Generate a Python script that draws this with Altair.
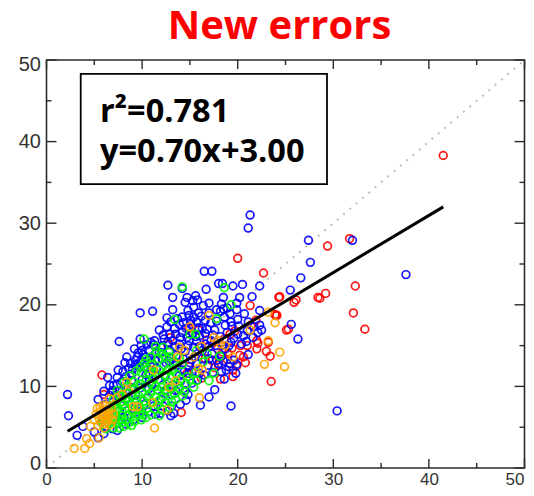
import altair as alt
import pandas as pd

blue = [(21.3,31.0),(21.1,29.4),(16.5,24.1),(17.3,24.1),(12.7,22.4),(13.2,20.9),(14.2,22.0),(9.8,19.0),(11.1,19.2),
(7.6,15.5),(9.8,15.8),(8.4,13.6),(7.5,12.0),(2.2,9.0),(2.3,6.4),(3.2,4.0),(3.8,5.1),(5.4,8.4),(6.4,11.1),(6.6,10.1),
(7.0,10.1),(14.6,8.3),(16.1,7.7),(17.0,8.7),(17.6,9.6),(19.3,7.6),(18.6,10.9),(18.0,22.6),(18.4,22.6),(19.5,22.3),
(20.5,22.5),(22.3,22.3),(16.7,21.9),(18.5,20.9),(20.2,20.9),(21.5,21.0),(15.6,21.1),(14.7,20.9),(14.5,20.3),(15.3,20.5),
(15.8,20.6),(15.4,19.7),(16.4,19.9),(17.0,20.2),(18.3,20.1),(18.5,19.5),(19.2,18.9),(20.7,18.9),(22.3,19.3),(21.1,17.9),
(22.3,17.5),(22.5,16.9),(12.6,18.4),(13.7,18.3),(14.2,18.5),(14.9,18.7),(15.4,18.5),(13.9,17.6),(12.6,17.3),(11.8,16.9),
(12.9,16.4),(13.5,16.4),(14.2,16.6),(16.6,18.1),(16.3,17.1),(17.6,16.9),(18.7,17.5),(20.0,16.4),(20.4,15.2),(21.1,13.9),
(19.2,12.8),(18.0,12.8),(18.7,14.6),(16.6,15.2),(16.3,14.4),(14.9,15.6),(13.9,15.2),(13.2,15.6),(12.3,15.8),(10.9,15.4),
(10.0,14.4),(9.5,13.6),(10.4,13.6),(10.7,14.4),(9.7,12.4),(8.6,12.2),(8.0,11.8),(9.0,12.1),(10.2,12.4),(11.0,12.9),
(13.3,6.7),(12.7,7.0),(11.4,6.6),(10.0,6.2),(8.3,5.4),(6.9,4.8),(6.0,4.2),(5.4,3.7),(5.0,4.4),(14.5,9.5),(14.2,12.0),
(15.2,13.3),(14.9,11.6),(32.0,27.9),(27.4,27.9),(27.6,25.2),(26.6,23.3),(25.5,21.8),(25.6,17.6),(26.3,15.8),(30.4,7.0),
(37.6,23.7),(17.8,18.0),(19.4,17.4),(15.1,17.6),(16.0,16.2),(17.2,15.6),(19.3,15.4),(21.6,16.0),(22.1,16.6),(18.2,19.2),
(13.2,19.4),(14.8,19.3),(15.9,19.0),(12.0,14.8),(11.4,14.0),(12.9,14.4),(14.5,14.3),(15.5,13.6),(17.3,14.0),(18.3,13.7),
(19.6,13.2),(19.8,11.6),(18.8,12.0),(16.9,12.6),(16.0,11.6),(15.2,10.4),(14.0,10.6),(13.1,9.0),(12.0,8.4),(10.6,8.6),
(9.3,9.0),(8.4,9.6),(7.2,8.9),(6.2,7.8),(7.6,7.0),(9.2,7.2),(11.0,10.2),(12.4,11.2),(13.6,12.6),(10.0,10.8),(8.9,10.7),
(9.8,13.0),(11.5,12.2),(12.5,12.9),(13.0,13.4),(8.2,12.9),(9.2,14.6),(9.9,15.0),(11.2,15.1),(20.1,17.4),(21.0,16.8),
(19.9,19.4),(17.2,17.8),(15.7,15.5),(14.6,17.1),(13.0,17.9),(12.1,15.0),(10.8,11.5),(6.0,9.4),(5.9,5.9),(7.4,11.1),
(15.1,18.1),(15.7,17.9),(16.2,18.6),(17.0,19.0),(17.8,19.4),(18.6,18.5),(19.3,17.9),(20.0,18.2),(13.4,17.1),(14.0,16.0),
(14.7,16.0),(15.3,16.5),(15.9,17.2),(16.6,16.5),(17.4,16.3),(18.2,16.1),(18.9,16.6),(19.6,15.9),(20.9,15.5),(12.2,16.3),
(12.7,15.4),(13.4,14.9),(14.1,14.6),(14.8,15.0),(15.4,14.8),(16.0,14.9),(17.0,14.9),(17.7,15.0),(18.4,15.0),(19.1,15.0),
(11.3,15.6),(10.5,15.1),(11.8,14.2),(10.1,13.9),(9.6,14.1),(9.3,13.2),(10.7,13.2),(11.4,13.2),(12.1,13.4),(12.8,13.1),
(13.6,13.8),(14.3,13.4),(15.0,12.9),(15.7,12.8),(16.3,13.4),(17.0,13.4),(17.8,13.2),(18.5,13.1),(19.1,12.4),(19.9,12.7),
(8.8,12.8),(9.3,12.6),(8.3,11.2),(8.9,11.5),(7.9,10.6),(7.4,10.3),(10.4,11.4),(11.4,11.3),(12.2,10.2),(13.2,10.2),(13.9,11.3),
(14.4,11.8),(15.2,11.8),(15.8,10.8),(16.5,11.4),(17.4,11.7),(18.3,11.8),(6.9,9.5),(7.9,9.4),(8.9,9.8),(9.8,9.8),(10.7,9.7),
(11.6,9.6),(12.5,9.6),(13.5,9.5),(14.8,9.0),(6.6,8.9),(7.5,8.4),(8.3,8.4),(9.3,8.0),(10.2,7.8),(11.2,7.6),(12.2,7.6),(13.1,7.6),
(14.0,7.8),(6.6,7.0),(8.4,7.0),(9.6,6.9),(10.7,6.9),(11.9,6.7),(13.0,6.4),(7.0,5.9),(8.1,6.2),(9.1,5.9),(6.3,5.1),(7.4,4.6),
(18.9,19.6),(19.9,20.2),(16.8,17.0),(15.6,16.1),(14.3,17.8),(21.7,17.3),(20.6,16.2)]

green = [(14.2,22.2),(18.6,22.1),(19.3,20.0),(17.8,18.3),(13.4,18.2),(10.2,15.8),(15.0,16.4),(15.6,16.4),(12.2,14.8),
(18.1,13.7),(17.5,11.6),(17.0,10.7),(15.7,10.7),(15.4,9.9),(14.4,9.3),(13.1,8.1),(11.8,6.4),(8.1,5.1),(15.7,14.4),(16.4,13.0),
(11.5,14.3),(12.8,14.2),(10.9,13.6),(11.7,13.4),(12.4,13.7),(13.3,13.1),(14.2,12.7),(10.2,12.8),(11.0,12.6),(9.4,11.9),
(8.7,11.3),(9.9,11.7),(10.8,11.7),(11.8,12.0),(12.7,12.0),(13.6,11.5),(14.7,11.2),(8.1,10.5),(9.1,10.6),(9.9,10.3),(10.9,10.4),
(11.9,10.8),(12.8,10.5),(13.7,10.2),(14.6,10.3),(7.4,9.5),(8.4,9.2),(9.2,9.6),(10.0,9.3),(10.9,9.2),(11.7,9.5),(12.6,9.2),
(13.4,9.1),(14.2,8.8),(7.0,8.4),(7.8,8.1),(8.6,8.2),(9.4,8.4),(10.2,8.2),(11.0,8.1),(11.8,8.3),(12.5,8.0),(6.7,7.3),
(7.4,7.3),(8.2,7.3),(9.0,7.1),(9.8,7.2),(10.5,7.3),(11.3,7.2),(12.1,7.1),(6.5,6.5),(7.2,6.2),(7.9,6.4),(8.6,6.4),(9.3,6.3),
(10.1,6.6),(10.9,6.5),(5.9,5.4),(6.6,5.5),(7.3,5.5),(7.9,5.6),(8.6,5.5),(9.2,5.7),(9.9,5.9),(6.2,4.8),(7.0,4.9),(7.6,4.9),
(12.3,12.6),(11.2,11.0),(13.0,11.0),(10.5,9.8),(9.0,8.8),(12.0,9.9),(13.0,9.7),(8.0,8.8),(6.9,6.9),(14.0,10.9),(15.0,10.8),
(11.4,14.9),(12.0,14.0),(12.9,13.6),(10.4,13.3),(9.8,12.3),(10.6,12.2),(11.5,11.6),(12.3,11.4),(13.2,12.0),(8.4,10.0),(9.5,10.1),
(10.4,10.7),(11.4,10.0),(12.4,9.5),(13.9,9.7),(7.6,8.9),(8.3,8.6),(9.6,8.9),(10.6,8.8),(11.4,8.7),(12.2,8.7),(13.5,8.4),(7.3,7.8),
(8.0,7.7),(8.9,7.7),(9.6,7.7),(10.4,7.8),(11.6,7.7),(12.9,7.4),(6.9,6.0),(7.6,5.9),(8.3,5.9),(9.0,6.8),(9.7,6.5),(10.4,6.2),(8.9,5.2),
(6.5,5.9),(7.9,6.9),(15.6,11.7),(16.8,14.0),(13.9,13.5),(7.0,7.6)]

orange = [(2.9,2.4),(4.0,2.4),(4.5,3.0),(4.2,3.6),(5.5,3.7),(11.3,4.9),(12.6,7.1),(11.1,8.0),(9.5,7.5),(9.1,7.5),(6.6,8.5),
(8.4,10.5),(11.2,12.0),(13.5,10.7),(12.8,9.9),(13.7,13.6),(13.9,14.8),(15.0,17.3),(17.0,18.7),(15.9,12.2),(16.3,12.0),(16.0,8.6),
(17.5,16.0),(18.2,15.2),(18.7,15.0),(19.5,13.6),(21.3,16.9),(23.2,19.1),(23.9,17.8),(23.2,15.6),(24.4,14.2),(22.8,12.7),(24.9,12.4),
(5.3,7.3),(5.6,6.9),(6.0,7.2),(6.4,6.8),(5.5,6.1),(5.9,6.3),(6.3,6.0),(5.7,5.6),(6.1,5.4),(6.6,6.3),(5.9,7.7),(4.6,5.1),(6.0,4.9),
(5.2,6.6),(6.2,7.6),(6.8,7.3),(7.0,6.6),(5.0,5.9),(6.7,5.3),(7.4,8.6),(7.9,9.0),(8.6,9.4),(15.4,13.6),(16.2,14.9),(14.4,14.4),(17.9,15.6),
(5.4,5.2),(5.8,6.7),(6.5,7.1),(6.1,6.6),(5.6,7.4),(6.3,5.6),(6.9,5.9)]

red = [(41.5,38.3),(31.7,28.1),(29.4,27.2),(32.3,22.3),(29.2,21.4),(28.4,20.9),(28.6,20.8),(32.1,19.0),(33.3,17.0),(26.1,20.6),
(25.9,20.3),(24.4,21.0),(25.3,17.0),(24.1,18.7),(20.0,25.7),(22.7,23.9),(24.3,20.9),(21.3,19.9),(5.8,11.4),(6.0,9.0),(6.9,9.3),
(14.1,6.8),(23.5,10.6),(23.4,13.7),(23.0,14.3),(22.0,15.6),(22.0,14.6),(22.1,15.3),(23.2,15.4),(23.9,18.8),(24.0,18.7),(21.9,18.1),
(25.1,16.9),(20.6,13.6),(19.5,12.0),(19.5,11.2),(18.2,10.9),(19.0,14.0),(17.3,13.2),(14.9,17.1),(13.0,16.0),(16.8,15.7),(14.7,11.6),
(14.9,12.4),(16.2,11.0),(18.0,12.6),(20.3,15.0),(19.2,16.4),(19.7,16.8),(20.8,12.9),(19.4,14.7),(18.6,15.8),(17.9,14.6),(16.6,13.4),
(20.2,13.8),(19.9,12.5),(18.9,13.3),(18.4,14.2),(17.6,12.3),(21.4,17.5),(15.9,16.9),(12.7,15.1),(21.0,15.0)]

x_major = [0, 10, 20, 30, 40, 50]
x_minor = [5, 15, 25, 35, 45]
y_major = [0, 10, 20, 30, 40, 50]
y_minor = [5, 15, 25, 35, 45]
fit_x = [2.2, 41.5]
fit_y = [4.5, 32.0]
unit = [0, 50]
box_x, box_x2, box_y, box_y2 = 3.58, 29.34, 48.3, 34.8
notes = ["r²=0.781", "y=0.70x+3.00"]
note_x = [5.6, 5.6]
note_y = [42.4, 37.5]

W, H = 478, 408
xs = alt.Scale(domain=[0, 50], nice=False, zero=False)
ys = alt.Scale(domain=[0, 50], nice=False, zero=False)
AX = "#2a2a2a"

y_off = {"condition": [{"test": "datum.value === 0", "value": -5},
                       {"test": "datum.value === 50", "value": 4}], "value": 0}
x_off = {"condition": [{"test": "datum.value === 50", "value": -10}], "value": 0}
xax = alt.Axis(values=x_major, ticks=False, domain=False, grid=False, title=None, labelFont="Liberation Sans",
               labelFontSize=17, labelColor="#333333", labelPadding=3, labelOffset=x_off, labelFlush=False,
               labelBound=False, labelOverlap=False)
yax = alt.Axis(values=y_major, ticks=False, domain=False, grid=False, title=None, labelFont="Liberation Sans",
               labelFontSize=20, labelColor="#333333", labelPadding=6, labelOffset=y_off, labelFlush=False,
               labelBound=False, labelOverlap=False)

x0 = lambda f: alt.X(f, type="quantitative", scale=xs, axis=xax)
y0 = lambda f: alt.Y(f, type="quantitative", scale=ys, axis=yax)

def pts(values, color):
    d = pd.DataFrame(values, columns=["x", "y"])
    return alt.Chart(d).mark_point(shape="circle", filled=False, size=60, strokeWidth=1.7, color=color, opacity=0.9).encode(x=x0("x"), y=y0("y"))

def vticks(vals, y1, y2):
    return alt.Chart(pd.DataFrame({"v": vals})).mark_rule(color=AX, strokeWidth=1.4).encode(
        x=x0("v"), y=alt.value(y1), y2=alt.value(y2))

def hticks(vals, x1, x2):
    return alt.Chart(pd.DataFrame({"v": vals})).mark_rule(color=AX, strokeWidth=1.4).encode(
        y=y0("v"), x=alt.value(x1), x2=alt.value(x2))

diag = alt.Chart(pd.DataFrame({"x": unit, "y": unit})).mark_line(
    color="#bdbdbd", strokeWidth=2, strokeDash=[2, 6.3]).encode(x=x0("x"), y=y0("y"))
fit = alt.Chart(pd.DataFrame({"x": fit_x, "y": fit_y})).mark_line(color="black", strokeWidth=3).encode(x=x0("x"), y=y0("y"))
box = alt.Chart(pd.DataFrame({"x": [box_x], "x2": [box_x2], "y": [box_y], "y2": [box_y2]})).mark_rect(
    fill="white", stroke="black", strokeWidth=1.8).encode(x=x0("x"), x2="x2", y=y0("y"), y2="y2")
txt = alt.Chart(pd.DataFrame({"t": notes, "x": note_x, "y": note_y})).mark_text(
    font="Open Sans", fontWeight="bold", fontSize=32.5, align="left", baseline="alphabetic", color="black").encode(
    x=x0("x"), y=y0("y"), text="t")

layers = [diag, pts(red, "#ff0000"), pts(blue, "#0000ff"), pts(green, "#00ff00"), pts(orange, "#ffa500"), fit, box, txt,
          vticks(x_major, H, H - 9), vticks(x_minor, H, H - 5), vticks(x_major, 0, 9), vticks(x_minor, 0, 5),
          hticks(y_major, 0, 10), hticks(y_minor, 0, 5), hticks(y_major, W, W - 10), hticks(y_minor, W, W - 5)]

chart = alt.layer(*layers).properties(
    width=W, height=H,
    title=alt.TitleParams("New errors", color="#ff0000", font="Open Sans", fontWeight="bold", fontSize=40,
                          anchor="middle", dx=-6, offset=7),
    autosize=alt.AutoSizeParams(type="none"),
    padding={"left": 38.5, "top": 52, "right": 1.5, "bottom": 20},
).configure_view(stroke=AX, strokeWidth=1.6)

chart.save("out.html", embed_options={"renderer": "svg", "actions": False})
